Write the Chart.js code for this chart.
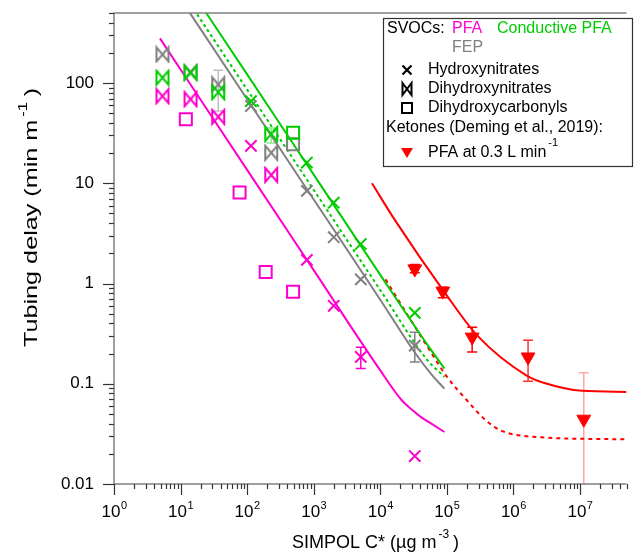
<!DOCTYPE html>
<html>
<head>
<meta charset="utf-8">
<title>Tubing delay vs SIMPOL C*</title>
<script src="https://cdn.jsdelivr.net/npm/chart.js@4.4.1/dist/chart.umd.min.js"></script>
<style>
  html, body { margin: 0; padding: 0; background: #fff; }
  canvas { display: block; }
</style>
</head>
<body>
<canvas id="delayChart" width="637" height="560"></canvas>
<script>
// hydroxynitrates: C* (ug m-3) and tubing delay (min m-1)
const hnC = [114, 790, 2000, 5100, 33000];
const hnPFA = [23.6, 1.72, 0.60, 0.185, 0.019];
const hnFEP = [59, 8.4, 2.9, 1.1, 0.24];
const hnCond = [66, 16.1, 6.4, 2.48, 0.51];
const hnPFALo = [null, null, null, 0.142, null];
const hnPFAHi = [null, null, null, 0.232, null];
const hnFEPLo = [null, null, null, null, 0.165];
const hnFEPHi = [null, null, null, null, 0.327];

// dihydroxynitrates
const dhnC = [5.35, 14.1, 36.8, 230];
const dhnPFA = [74, 69, 46, 12.1];
const dhnFEP = [193, 128, 97, 20.2];
const dhnCond = [113, 127, 81, 31];
const dhnFEPLo = [null, null, 52.6, null];
const dhnFEPHi = [null, null, 134, null];
const dhnCondLo = [null, null, null, 25.3];
const dhnCondHi = [null, null, null, 35.6];

// dihydroxycarbonyls
const dhcC = [12, 77, 190, 490];
const dhcPFA = [43.5, 8.1, 1.30, 0.83];
const dhcFEP = [null, null, null, 24.5];
const dhcCond = [null, null, null, 32];

// ketones (Deming et al., 2019), PFA at 0.3 L min-1
const ketC = [33000, 87000, 240000, 1.66e6, 1.14e7];
const ketDelay = [1.40, 0.84, 0.292, 0.185, 0.0443];
const ketLo = [1.28, 0.72, 0.207, 0.106, 0.001];
const ketHi = [1.55, 0.92, 0.367, 0.271, 0.129];

// model curves
const fitPFAC = [4.9, 100, 1000, 1e4, 2.1e4, 3e4, 4e4, 5.85e4, 9.2e4];
const fitPFA = [279, 13.6, 1.36, 0.136, 0.0685, 0.055, 0.047, 0.040, 0.033];
const fitFEPC = [8, 100, 1000, 1e4, 3.3e4, 6e4, 9.2e4];
const fitFEP = [865, 69, 6.9, 0.69, 0.205, 0.122, 0.0895];
const fitCondC = [15, 100, 1000, 1e4, 5e4, 9.2e4];
const fitCond = [810, 122, 12.2, 1.22, 0.25, 0.142];
const fitCondDotC = [10, 100, 1000, 1e4, 5e4, 9.2e4];
const fitCondDot = [861, 86, 8.6, 0.86, 0.175, 0.117];
const fitKetC = [7500, 1.68e4, 9.2e4, 2.85e5, 1.56e6, 3.1e6, 1.07e7, 5e7];
const fitKet = [10, 4.24, 0.82, 0.304, 0.1215, 0.1005, 0.085, 0.083];
const fitKetDotC = [1.2e4, 5e4, 1e5, 2e5, 3.6e5, 6.3e5, 1.95e6, 5e7];
const fitKetDot = [1.1, 0.24, 0.118, 0.0685, 0.045, 0.0345, 0.0296, 0.0279];

// axis ticks
const xDecades = [0, 1, 2, 3, 4, 5, 6, 7];
const yTickValues = [0.01, 0.1, 1, 10, 100];
const yTickLabels = ['0.01', '0.1', '1', '10', '100'];

const FONT = '"Liberation Sans", Arial, sans-serif';
const C_PFA = '#ff00cc';
const C_COND = '#00cc00';
const C_FEP = '#808080';
const C_KET = '#ff0000';

// bowtie marker (no built in style for it)
function bowtie(color, w, h, lw) {
  const c = document.createElement('canvas');
  c.width = w + 4;
  c.height = h + 4;
  const g = c.getContext('2d');
  g.strokeStyle = color;
  g.lineWidth = lw;
  g.beginPath();
  g.moveTo(2, 2);
  g.lineTo(2 + w, 2 + h);
  g.lineTo(2 + w, 2);
  g.lineTo(2, 2 + h);
  g.closePath();
  g.stroke();
  return c;
}

function pts(xs, ys) {
  const out = [];
  xs.forEach((x, i) => { if (ys[i] != null) out.push({ x: x, y: ys[i] }); });
  return out;
}

function marker(label, xs, ys, color, style, extra) {
  return Object.assign({
    label: label,
    data: pts(xs, ys),
    showLine: false,
    pointStyle: style,
    pointRadius: 8,
    pointBorderWidth: 2,
    pointBorderColor: color,
    pointBackgroundColor: 'rgba(0,0,0,0)',
    borderColor: color
  }, extra || {});
}

function curve(label, xs, ys, color, dash) {
  return {
    label: label,
    data: pts(xs, ys),
    showLine: true,
    pointRadius: 0,
    borderColor: color,
    borderWidth: 2,
    borderDash: dash || [],
    cubicInterpolationMode: 'monotone',
    fill: false
  };
}

const datasets = [
  marker('Ketones PFA 0.3 L/min', ketC, ketDelay, C_KET, 'triangle', {
    pointRotation: 180, pointBackgroundColor: C_KET, pointBorderWidth: 1,
    errC: ketC, errLo: ketLo, errHi: ketHi,
    errColor: ['#ff0000', '#ff0000', '#ff0000', '#ff3333', 'rgba(255,0,0,0.35)']
  }),
  marker('Hydroxynitrates Cond. PFA', hnC, hnCond, C_COND, 'crossRot'),
  marker('Hydroxynitrates PFA', hnC, hnPFA, C_PFA, 'crossRot', {
    errC: hnC, errLo: hnPFALo, errHi: hnPFAHi, errColor: C_PFA
  }),
  marker('Hydroxynitrates FEP', hnC, hnFEP, C_FEP, 'crossRot', {
    errC: hnC, errLo: hnFEPLo, errHi: hnFEPHi, errColor: C_FEP
  }),
  marker('Dihydroxynitrates Cond. PFA', dhnC, dhnCond, C_COND, bowtie(C_COND, 12, 14, 2), {
    errC: dhnC, errLo: dhnCondLo, errHi: dhnCondHi, errColor: 'rgba(0,204,0,0.45)'
  }),
  marker('Dihydroxynitrates PFA', dhnC, dhnPFA, C_PFA, bowtie(C_PFA, 12, 14, 2)),
  marker('Dihydroxynitrates FEP', dhnC, dhnFEP, C_FEP, bowtie(C_FEP, 12, 14, 2), {
    errC: dhnC, errLo: dhnFEPLo, errHi: dhnFEPHi, errColor: 'rgba(128,128,128,0.5)'
  }),
  marker('Dihydroxycarbonyls Cond. PFA', dhcC, dhcCond, C_COND, 'rect', { pointRadius: 8.5 }),
  marker('Dihydroxycarbonyls PFA', dhcC, dhcPFA, C_PFA, 'rect', { pointRadius: 8.5 }),
  marker('Dihydroxycarbonyls FEP', dhcC, dhcFEP, C_FEP, 'rect', { pointRadius: 8.5 }),
  curve('Fit PFA', fitPFAC, fitPFA, C_PFA),
  curve('Fit Cond. PFA', fitCondC, fitCond, C_COND),
  curve('Fit Cond. PFA (dotted)', fitCondDotC, fitCondDot, C_COND, [3, 3]),
  curve('Fit FEP', fitFEPC, fitFEP, C_FEP),
  curve('Fit ketones', fitKetC, fitKet, C_KET),
  curve('Fit ketones (dotted)', fitKetDotC, fitKetDot, C_KET, [4, 4])
];

const errorBars = {
  id: 'errorBars',
  beforeDatasetsDraw(chart) {
    const { ctx, chartArea: a, scales: { x, y } } = chart;
    ctx.save();
    ctx.beginPath();
    ctx.rect(a.left, a.top, a.right - a.left, a.bottom - a.top + 1);
    ctx.clip();
    ctx.lineWidth = 1.5;
    chart.data.datasets.forEach(ds => {
      if (!ds.errLo) return;
      ds.errC.forEach((c, i) => {
        if (ds.errLo[i] == null) return;
        const px = x.getPixelForValue(c);
        const y1 = y.getPixelForValue(ds.errLo[i]);
        const y2 = y.getPixelForValue(ds.errHi[i]);
        ctx.strokeStyle = Array.isArray(ds.errColor) ? ds.errColor[i] : ds.errColor;
        ctx.beginPath();
        ctx.moveTo(px, y1); ctx.lineTo(px, y2);
        ctx.moveTo(px - 5, y1); ctx.lineTo(px + 5, y1);
        ctx.moveTo(px - 5, y2); ctx.lineTo(px + 5, y2);
        ctx.stroke();
      });
    });
    ctx.restore();
  }
};

const axesDraw = {
  id: 'axesDraw',
  afterDatasetsDraw(chart) {
    const { ctx, chartArea: a, scales: { x, y } } = chart;
    ctx.save();
    // frame
    ctx.strokeStyle = '#808080';
    ctx.lineWidth = 1.5;
    ctx.beginPath();
    ctx.moveTo(a.right, a.top);
    ctx.lineTo(a.left, a.top);
    ctx.lineTo(a.left, a.bottom);
    ctx.lineTo(a.right, a.bottom);
    ctx.stroke();

    // log ticks
    ctx.strokeStyle = '#333';
    ctx.lineWidth = 1.2;
    for (let e = 0; e <= 7; e++) {
      for (let m = 1; m <= 9; m++) {
        const v = m * Math.pow(10, e);
        if (v > x.max) break;
        const px = Math.round(x.getPixelForValue(v)) + 0.5;
        ctx.beginPath();
        ctx.moveTo(px, a.bottom);
        ctx.lineTo(px, a.bottom + (m === 1 ? 11 : 5));
        ctx.stroke();
      }
    }
    for (let e = -2; e <= 2; e++) {
      for (let m = 1; m <= 9; m++) {
        const v = m * Math.pow(10, e);
        if (v > y.max * 1.001) break;
        const py = Math.round(y.getPixelForValue(v)) + 0.5;
        ctx.beginPath();
        ctx.moveTo(a.left, py);
        ctx.lineTo(a.left - (m === 1 ? 11 : 5), py);
        ctx.stroke();
      }
    }

    // tick labels
    ctx.fillStyle = '#000';
    ctx.textBaseline = 'alphabetic';
    ctx.textAlign = 'left';
    xDecades.forEach(e => {
      const px = x.getPixelForValue(Math.pow(10, e));
      ctx.font = '17px ' + FONT;
      const wb = ctx.measureText('10').width;
      ctx.font = '11px ' + FONT;
      const ws = ctx.measureText(String(e)).width;
      const left = px - (wb + ws) / 2;
      ctx.font = '17px ' + FONT;
      ctx.fillText('10', left, 517);
      ctx.font = '11px ' + FONT;
      ctx.fillText(String(e), left + wb + 0.5, 509);
    });
    ctx.font = '17px ' + FONT;
    ctx.textAlign = 'right';
    ctx.textBaseline = 'middle';
    yTickValues.forEach((v, i) => {
      ctx.fillText(yTickLabels[i], 94, y.getPixelForValue(v));
    });

    // axis titles
    ctx.textAlign = 'left';
    ctx.textBaseline = 'alphabetic';
    ctx.font = '18px ' + FONT;
    let t = 'SIMPOL C* (\u00b5g m';
    ctx.fillText(t, 292, 548);
    let w = ctx.measureText(t).width;
    ctx.font = '12px ' + FONT;
    ctx.fillText('-3', 292 + w + 2, 538);
    let ws = ctx.measureText('-3').width;
    ctx.font = '18px ' + FONT;
    ctx.fillText(' )', 292 + w + ws + 1, 548);

    ctx.save();
    ctx.translate(37, 347);
    ctx.rotate(-Math.PI / 2);
    ctx.scale(1.4, 1);
    t = 'Tubing delay (min m';
    ctx.fillText(t, 0, 0);
    w = ctx.measureText(t).width;
    ctx.font = '12px ' + FONT;
    ctx.fillText('-1', w + 2, -10);
    ws = ctx.measureText('-1').width;
    ctx.font = '18px ' + FONT;
    ctx.fillText(' )', w + ws + 1, 0);
    ctx.restore();

    ctx.restore();
  }
};

const legendBox = {
  id: 'legendBox',
  afterDraw(chart) {
    const ctx = chart.ctx;
    ctx.save();
    ctx.fillStyle = '#fff';
    ctx.fillRect(383, 18, 250, 149);
    ctx.strokeStyle = '#333';
    ctx.lineWidth = 1.2;
    ctx.strokeRect(383.5, 18.5, 249, 148);

    ctx.font = '16px ' + FONT;
    ctx.textAlign = 'left';
    ctx.textBaseline = 'middle';
    ctx.fillStyle = '#000';
    ctx.fillText('SVOCs:', 387, 29);
    ctx.fillStyle = C_PFA;
    ctx.fillText('PFA', 452, 29);
    ctx.fillStyle = C_COND;
    ctx.fillText('Conductive PFA', 497, 29);
    ctx.fillStyle = C_FEP;
    ctx.fillText('FEP', 452, 48);
    ctx.fillStyle = '#000';
    ctx.fillText('Hydroxynitrates', 428, 70);
    ctx.fillText('Dihydroxynitrates', 428, 89);
    ctx.fillText('Dihydroxycarbonyls', 428, 108);
    ctx.fillText('Ketones (Deming et al., 2019):', 386, 128);
    ctx.fillText('PFA at 0.3 L min', 428, 153);
    const w = ctx.measureText('PFA at 0.3 L min').width;
    ctx.font = '11px ' + FONT;
    ctx.fillText('-1', 428 + w + 2, 143);

    // legend symbols
    ctx.strokeStyle = '#000';
    ctx.lineWidth = 2.2;
    ctx.beginPath();
    ctx.moveTo(402.5, 65.5); ctx.lineTo(411.5, 74.5);
    ctx.moveTo(411.5, 65.5); ctx.lineTo(402.5, 74.5);
    ctx.stroke();
    ctx.lineWidth = 2;
    ctx.beginPath();
    ctx.moveTo(402.5, 83); ctx.lineTo(411.5, 95); ctx.lineTo(411.5, 83); ctx.lineTo(402.5, 95);
    ctx.closePath();
    ctx.stroke();
    ctx.strokeRect(402, 103, 10, 10);
    ctx.fillStyle = C_KET;
    ctx.beginPath();
    ctx.moveTo(401, 148); ctx.lineTo(413, 148); ctx.lineTo(407, 158);
    ctx.closePath();
    ctx.fill();
    ctx.restore();
  }
};

new Chart(document.getElementById('delayChart'), {
  type: 'scatter',
  data: { datasets: datasets },
  options: {
    responsive: false,
    animation: false,
    devicePixelRatio: 1,
    layout: { padding: { top: 13, right: 1, left: 0, bottom: 0 } },
    plugins: { legend: { display: false }, tooltip: { enabled: false } },
    scales: {
      x: {
        type: 'logarithmic',
        min: 1,
        max: 5e7,
        ticks: { display: false },
        grid: { display: false },
        border: { display: false },
        afterFit: s => { s.height = 76; }
      },
      y: {
        type: 'logarithmic',
        min: 0.01,
        max: 500,
        ticks: { display: false },
        grid: { display: false },
        border: { display: false },
        afterFit: s => { s.width = 114; }
      }
    }
  },
  plugins: [errorBars, axesDraw, legendBox]
});
</script>
</body>
</html>
